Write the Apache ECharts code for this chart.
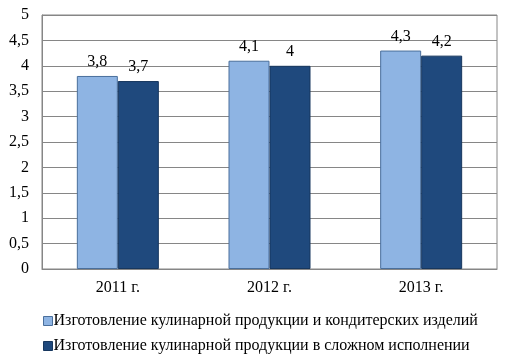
<!DOCTYPE html>
<html><head><meta charset="utf-8">
<script src="https://cdn.jsdelivr.net/npm/echarts@6/dist/echarts.min.js"></script>
<style>html,body{margin:0;padding:0;background:#fff}#c{width:512px;height:363px}</style>
</head><body><div id="c"></div>
<script>
const categories = ['2011 г.', '2012 г.', '2013 г.'];
const seriesNames = ['Изготовление кулинарной продукции и кондитерских изделий', 'Изготовление кулинарной продукции в сложном исполнении'];
const values1 = [3.8, 4.1, 4.3];
const values2 = [3.7, 4.0, 4.2];
const yTicks = {min: 0, max: 5, interval: 0.5};

const font = 'Liberation Serif, Times New Roman, serif';
const fmt = v => String(v).replace('.', ',');
const chart = echarts.init(document.getElementById('c'), null, {renderer: 'canvas'});
chart.setOption({
  animation: false,
  textStyle: {fontFamily: font},
  grid: {left: 42, right: 15, top: 15, bottom: 94, show: true, borderColor: '#868686', borderWidth: 1},
  xAxis: {
    type: 'category', data: categories,
    axisLine: {lineStyle: {color: '#868686'}}, axisTick: {show: false},
    axisLabel: {color: '#000', fontFamily: font, fontSize: 16, margin: 11}
  },
  yAxis: {
    type: 'value', min: yTicks.min, max: yTicks.max, interval: yTicks.interval,
    axisLine: {show: true, lineStyle: {color: '#868686'}}, axisTick: {show: false},
    splitLine: {lineStyle: {color: '#868686'}},
    axisLabel: {color: '#000', fontFamily: font, fontSize: 16, margin: 13, formatter: fmt}
  },
  legend: {
    orient: 'vertical', left: 38, top: 308, itemWidth: 9, itemHeight: 9, itemGap: 9,
    textStyle: {color: '#000', fontFamily: font, fontSize: 16, padding: [0,0,0,-4]},
    data: seriesNames.map(n => ({name: n, icon: 'rect', itemStyle: {borderColor: n === seriesNames[0] ? '#4A6F9C' : '#17375E', borderWidth: 1}}))
  },
  series: [
    {name: seriesNames[0], type: 'bar', data: values1, barWidth: 41, barGap: '0%',
     itemStyle: {color: '#8EB4E3', borderColor: '#4A6F9C', borderWidth: 1},
     label: {show: true, position: 'top', distance: 6, color: '#000', fontFamily: font, fontSize: 16, formatter: p => fmt(p.value)}},
    {name: seriesNames[1], type: 'bar', data: values2, barWidth: 41, barGap: '0%',
     itemStyle: {color: '#1F497D', borderColor: '#17375E', borderWidth: 1},
     label: {show: true, position: 'top', distance: 6, color: '#000', fontFamily: font, fontSize: 16, formatter: p => fmt(p.value)}}
  ]
});
</script></body></html>
